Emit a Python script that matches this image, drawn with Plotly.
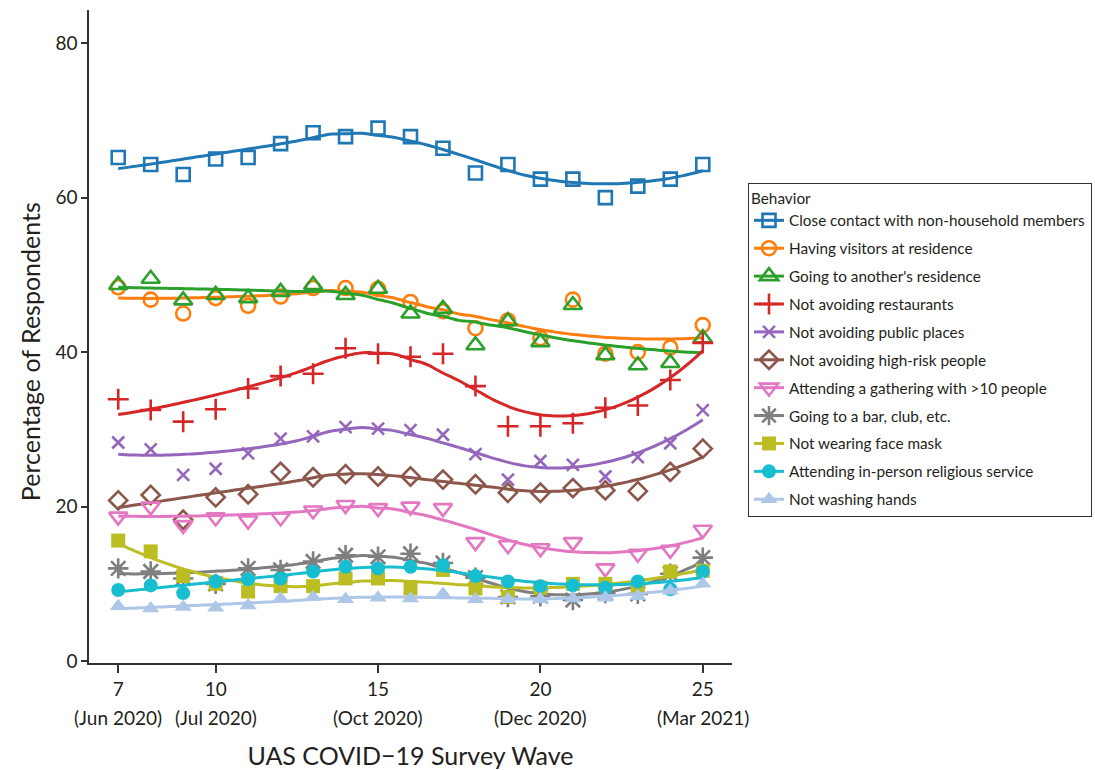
import numpy as np
import plotly.graph_objects as go

# Survey waves 7..25
waves = list(range(7, 26))

close_contact = [65.2, 64.3, 63.0, 65.0, 65.2, 67.0, 68.4, 67.9, 69.0, 67.9,
                 66.4, 63.2, 64.3, 62.4, 62.4, 60.0, 61.5, 62.4, 64.3]
visitors = [48.4, 46.8, 45.0, 47.0, 46.0, 47.2, 48.3, 48.3, 48.2, 46.5,
            45.3, 43.1, 44.1, 41.8, 46.8, 39.8, 40.0, 40.6, 43.5]
others_residence = [48.7, 49.5, 46.7, 47.4, 47.0, 47.8, 48.7, 47.4, 48.2, 45.0,
                    45.6, 40.9, 44.0, 41.3, 46.1, 39.6, 38.3, 38.6, 41.8]
restaurants = [33.9, 32.5, 31.0, 32.6, 35.3, 36.9, 37.2, 40.5, 39.8, 39.4,
               39.8, 35.6, 30.4, 30.4, 30.8, 32.8, 33.1, 36.4, 41.2]
public_places = [28.3, 27.4, 24.1, 24.9, 26.9, 28.8, 29.1, 30.3, 30.1, 29.9,
                 29.3, 26.8, 23.5, 25.9, 25.4, 23.9, 26.4, 28.2, 32.5]
high_risk = [20.8, 21.5, 18.3, 21.2, 21.6, 24.5, 23.8, 24.2, 23.9, 23.9,
             23.5, 22.9, 21.8, 21.8, 22.4, 22.1, 22.0, 24.5, 27.5]
gathering = [18.7, 20.0, 17.6, 18.6, 18.2, 18.6, 19.5, 20.2, 19.8, 20.0,
             19.8, 15.4, 15.0, 14.6, 15.4, 12.0, 13.9, 14.4, 17.0]
bar_club = [12.0, 11.6, 10.7, 10.0, 12.0, 11.8, 12.9, 13.7, 13.5, 13.9,
            12.7, 10.8, 8.3, 8.4, 7.9, 8.8, 8.7, 11.3, 13.4]
no_mask = [15.6, 14.2, 11.0, 10.0, 9.0, 9.7, 9.7, 10.7, 10.7, 9.4,
           11.8, 9.4, 8.3, 9.5, 10.0, 10.0, 9.7, 11.6, 11.7]
religious = [9.2, 9.8, 8.8, 10.3, 10.6, 10.7, 11.6, 12.2, 12.0, 12.2,
             12.4, 11.0, 10.3, 9.7, 9.8, 9.5, 10.3, 9.3, 11.6]
no_handwash = [7.1, 6.8, 7.0, 6.9, 7.2, 8.1, 8.3, 8.0, 8.2, 8.1,
               8.7, 8.0, 8.0, 8.0, 8.1, 8.2, 8.4, 9.1, 10.0]

tick_waves = [7, 10, 15, 20, 25]
tick_dates = ["Jun 2020", "Jul 2020", "Oct 2020", "Dec 2020", "Mar 2021"]

series = [
    ("Close contact with non-household members", close_contact, "#1f77b4", "square-open", 13),
    ("Having visitors at residence", visitors, "#ff7f0e", "circle-open", 14),
    ("Going to another's residence", others_residence, "#2ca02c", "triangle-up-open", 16),
    ("Not avoiding restaurants", restaurants, "#d62728", "cross-thin-open", 15),
    ("Not avoiding public places", public_places, "#9467bd", "x-thin-open", 12),
    ("Not avoiding high-risk people", high_risk, "#8c564b", "diamond-open", 14),
    ("Attending a gathering with >10 people", gathering, "#e377c2", "triangle-down-open", 16),
    ("Going to a bar, club, etc.", bar_club, "#7f7f7f", "asterisk-open", 17),
    ("Not wearing face mask", no_mask, "#bcbd22", "square", 14),
    ("Attending in-person religious service", religious, "#17becf", "circle", 14),
    ("Not washing hands", no_handwash, "#aec7e8", "triangle-up", 15),
]


def loess(x, y, x_new, span=0.75):
    """Local quadratic regression with tricube weights."""
    x = np.asarray(x, float)
    y = np.asarray(y, float)
    n = len(x)
    q = int(np.floor(n * span))
    fitted = []
    for x0 in x_new:
        d = np.abs(x - x0)
        h = np.sort(d)[q - 1] * 1.0001
        w = np.clip(1 - (d / h) ** 3, 0, None) ** 3
        X = np.column_stack([np.ones(n), x - x0, (x - x0) ** 2])
        XtW = X.T * w
        beta = np.linalg.solve(XtW @ X, XtW @ y)
        fitted.append(beta[0])
    return np.array(fitted)


x_grid = np.linspace(min(waves), max(waves), 80)

fig = go.Figure()
for i, (name, vals, color, symbol, size) in enumerate(series):
    filled = not symbol.endswith("open")
    marker = dict(symbol=symbol, size=size, color=color,
                  line=dict(color=color, width=0 if filled else 2.6))
    # observed values
    fig.add_trace(go.Scatter(x=waves, y=vals, mode="markers", marker=marker,
                             legendgroup=name, showlegend=False, hoverinfo="skip"))
    # smoothed trend
    fig.add_trace(go.Scatter(x=x_grid, y=loess(waves, vals, x_grid), mode="lines",
                             line=dict(color=color, width=3, shape="spline"),
                             legendgroup=name, showlegend=False, hoverinfo="skip"))
    # legend key with line and symbol
    fig.add_trace(go.Scatter(x=[None], y=[None], mode="lines+markers", name=name,
                             marker=marker, line=dict(color=color, width=3),
                             legendgroup=name, showlegend=True))

font_family = "Lato, 'Open Sans', sans-serif"
text_color = "#231f20"

# month labels under the wave numbers
for w, d in zip(tick_waves, tick_dates):
    fig.add_annotation(x=w, xref="x", y=-0.0842, yref="paper",
                       text=f"({d})", showarrow=False,
                       xanchor="center", yanchor="middle",
                       font=dict(size=19, color=text_color))

# y-axis title
fig.add_annotation(x=0, xref="paper", xshift=-59, y=0.476, yref="paper",
                   text="Percentage of Respondents", textangle=-90,
                   showarrow=False, xanchor="center", yanchor="middle",
                   font=dict(size=25, color=text_color))

fig.update_layout(
    width=1095, height=770,
    margin=dict(l=89, r=363, t=10, b=107),
    paper_bgcolor="white", plot_bgcolor="white",
    font=dict(family=font_family, color=text_color),
    showlegend=True,
    legend=dict(
        title=dict(text="Behavior", font=dict(size=15.3, color=text_color)),
        font=dict(size=15.3, color=text_color),
        xref="container", yref="container",
        x=748 / 1095, xanchor="left", y=1 - 183 / 770, yanchor="top",
        bordercolor="#333333", borderwidth=1, bgcolor="white",
        tracegroupgap=5, itemwidth=30,
    ),
    xaxis=dict(
        range=[6.1, 25.9], showgrid=False, zeroline=False,
        showline=True, linecolor="#333333", linewidth=2,
        ticks="outside", ticklen=8, tickwidth=1.5, tickcolor="#333333",
        tickvals=tick_waves, ticktext=[str(w) for w in tick_waves],
        tickfont=dict(size=19, color=text_color),
        title=dict(text="UAS COVID\u221219 Survey Wave",
                   font=dict(size=25, color=text_color), standoff=63),
        automargin=False,
    ),
    yaxis=dict(
        range=[-0.25, 84.3], showgrid=False, zeroline=False,
        showline=True, linecolor="#333333", linewidth=1.5,
        ticks="outside", ticklen=6, tickwidth=1.5, tickcolor="#333333",
        tickvals=[0, 20, 40, 60, 80],
        tickfont=dict(size=19, color=text_color),
        automargin=False,
    ),
)

fig.write_html("out.html")
